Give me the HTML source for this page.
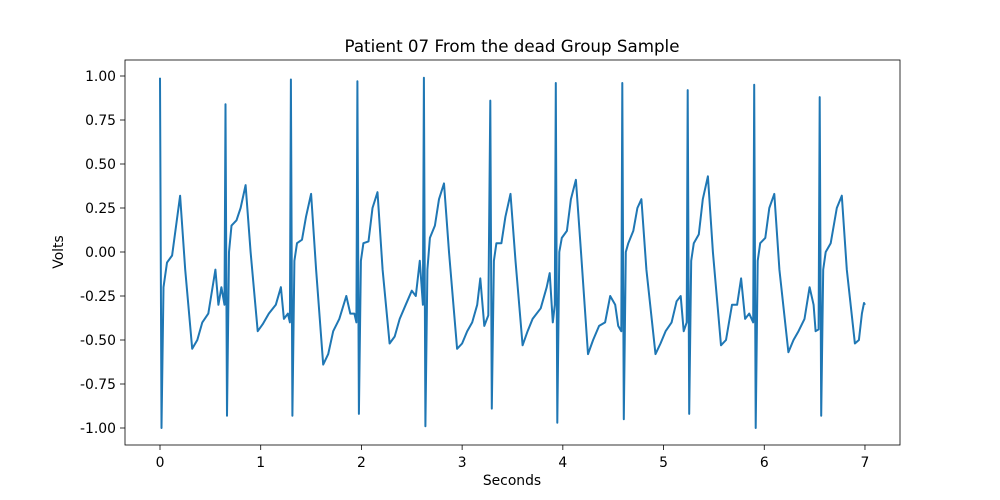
<!DOCTYPE html>
<html><head><meta charset="utf-8"><style>
body{margin:0;background:#fff}
svg{display:block;font-family:"DejaVu Sans","Liberation Sans",sans-serif}
</style></head><body>
<svg id="chart" width="1000" height="500">
<rect width="1000" height="500" fill="#fff"/>
<text x="512" y="52" text-anchor="middle" font-size="16.7">Patient 07 From the dead Group Sample</text>
<g id="plot"></g>
<rect x="125" y="60" width="775" height="385" fill="none" stroke="#000" stroke-width="0.8"/>
<g id="xticks"></g><g id="yticks"></g>
<text x="512" y="485" text-anchor="middle" font-size="13.9">Seconds</text>
<text x="63" y="252" text-anchor="middle" font-size="13.9" transform="rotate(-90 63 252)">Volts</text>
</svg>
<script>
const times=[0,0.015,0.035,0.07,0.12,0.16,0.2,0.25,0.32,0.37,0.42,0.48,0.55,0.58,0.61,0.64,
0.65,0.665,0.685,0.71,0.76,0.8,0.85,0.9,0.97,1.02,1.08,1.15,1.2,1.23,1.27,1.29,
1.30,1.315,1.335,1.36,1.41,1.45,1.5,1.55,1.62,1.67,1.72,1.78,1.85,1.89,1.93,1.95,
1.96,1.975,1.995,2.02,2.07,2.11,2.16,2.21,2.28,2.33,2.38,2.44,2.5,2.54,2.58,2.61,
2.62,2.635,2.655,2.68,2.73,2.77,2.82,2.87,2.95,3.0,3.05,3.1,3.15,3.18,3.22,3.26,
3.28,3.295,3.315,3.34,3.39,3.43,3.48,3.53,3.6,3.65,3.7,3.78,3.84,3.87,3.9,3.92,
3.93,3.945,3.965,3.99,4.04,4.08,4.13,4.18,4.25,4.3,4.36,4.42,4.47,4.52,4.55,4.58,
4.59,4.605,4.625,4.65,4.7,4.74,4.78,4.83,4.92,4.97,5.02,5.08,5.13,5.17,5.2,5.23,
5.24,5.255,5.275,5.3,5.35,5.39,5.44,5.49,5.57,5.62,5.68,5.73,5.77,5.81,5.85,5.89,
5.90,5.915,5.935,5.96,6.01,6.05,6.1,6.15,6.24,6.29,6.34,6.4,6.45,6.49,6.51,6.54,
6.55,6.565,6.585,6.61,6.66,6.72,6.77,6.82,6.9,6.94,6.97,6.99,7.0];
const volts=[0.99,-1.0,-0.2,-0.06,-0.02,0.15,0.32,-0.1,-0.55,-0.5,-0.4,-0.35,-0.1,-0.3,-0.2,-0.3,
0.84,-0.93,0.0,0.15,0.18,0.25,0.38,0.0,-0.45,-0.41,-0.35,-0.3,-0.2,-0.38,-0.35,-0.4,
0.98,-0.93,-0.05,0.05,0.07,0.2,0.33,-0.1,-0.64,-0.58,-0.45,-0.38,-0.25,-0.35,-0.35,-0.4,
0.97,-0.92,-0.05,0.05,0.06,0.25,0.34,-0.1,-0.52,-0.48,-0.38,-0.3,-0.22,-0.25,-0.05,-0.3,
0.99,-0.99,-0.1,0.08,0.15,0.3,0.39,0.0,-0.55,-0.52,-0.45,-0.4,-0.3,-0.15,-0.42,-0.36,
0.86,-0.89,-0.05,0.05,0.05,0.2,0.33,-0.05,-0.53,-0.45,-0.38,-0.32,-0.2,-0.12,-0.4,-0.3,
0.96,-0.97,0.0,0.08,0.12,0.3,0.41,0.0,-0.58,-0.5,-0.42,-0.4,-0.25,-0.3,-0.42,-0.45,
0.96,-0.95,0.0,0.05,0.12,0.25,0.30,-0.1,-0.58,-0.52,-0.45,-0.4,-0.28,-0.25,-0.45,-0.4,
0.92,-0.92,-0.05,0.05,0.1,0.3,0.43,0.0,-0.53,-0.5,-0.3,-0.3,-0.15,-0.38,-0.35,-0.4,
0.95,-1.0,-0.05,0.05,0.08,0.25,0.33,-0.1,-0.57,-0.5,-0.45,-0.38,-0.2,-0.3,-0.45,-0.44,
0.88,-0.93,-0.1,0.0,0.05,0.25,0.32,-0.1,-0.52,-0.5,-0.35,-0.29,-0.3];
const xTickVals=[0,1,2,3,4,5,6,7];
const yTickVals=[1.0,0.75,0.5,0.25,0.0,-0.25,-0.5,-0.75,-1.0];
const NS='http://www.w3.org/2000/svg';
const xs=t=>160+t*100.71;
const ys=v=>252-v*176;
const plot=document.getElementById('plot');
const d=times.map((t,i)=>(i?'L':'M')+xs(t).toFixed(1)+' '+ys(volts[i]).toFixed(1)).join('');
const p=document.createElementNS(NS,'path');
p.setAttribute('d',d);p.setAttribute('fill','none');p.setAttribute('stroke','#1f77b4');p.setAttribute('stroke-width','2');p.setAttribute('stroke-linejoin','round');


plot.appendChild(p);
const xg=document.getElementById('xticks');
xTickVals.forEach(v=>{
 const x=xs(v);
 const l=document.createElementNS(NS,'line');
 l.setAttribute('x1',x);l.setAttribute('x2',x);l.setAttribute('y1',445);l.setAttribute('y2',450);l.setAttribute('stroke','#000');l.setAttribute('stroke-width','0.8');
 
 
 xg.appendChild(l);
 const tx=document.createElementNS(NS,'text');
 tx.setAttribute('x',x);tx.setAttribute('y',467);tx.setAttribute('text-anchor','middle');tx.setAttribute('font-size','13.9');
 tx.textContent=v;
 
 
 xg.appendChild(tx);
});
const yg=document.getElementById('yticks');
yTickVals.forEach(v=>{
 const y=ys(v);
 const l=document.createElementNS(NS,'line');
 l.setAttribute('x1',120);l.setAttribute('x2',125);l.setAttribute('y1',y);l.setAttribute('y2',y);l.setAttribute('stroke','#000');l.setAttribute('stroke-width','0.8');
 
 
 yg.appendChild(l);
 const tx=document.createElementNS(NS,'text');
 tx.setAttribute('x',116);tx.setAttribute('y',y+5);tx.setAttribute('text-anchor','end');tx.setAttribute('font-size','13.9');
 tx.textContent=v.toFixed(2);
 
 
 yg.appendChild(tx);
});
</script>
</body></html>
